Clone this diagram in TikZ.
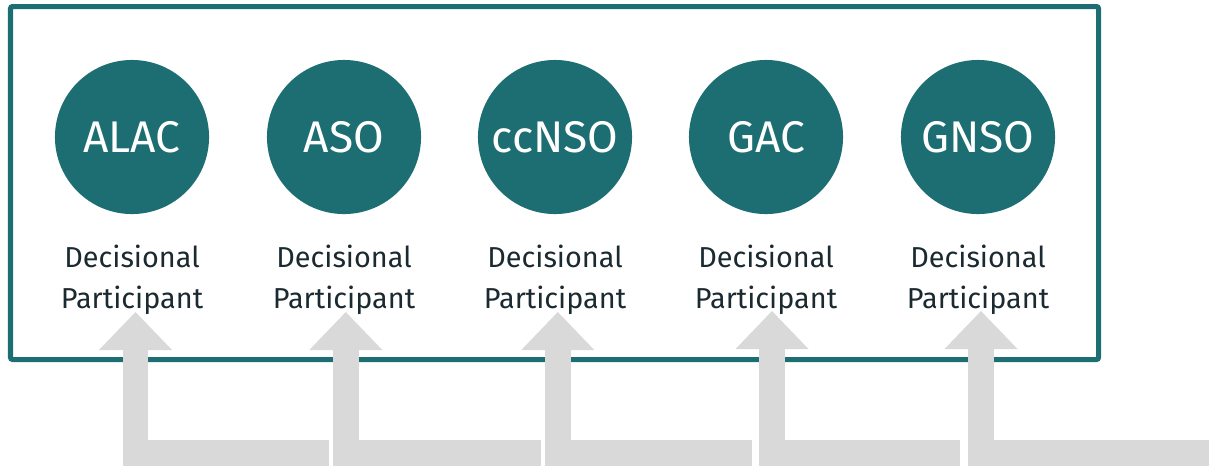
\documentclass[tikz,border=0pt]{standalone}
\usepackage{fontspec}
\setmainfont{Fira Sans}
\usetikzlibrary{arrows.meta}
\definecolor{soteal}{HTML}{1D6E72}
\definecolor{feedgray}{HTML}{D9D9D9}
\definecolor{roletext}{HTML}{1B2A30}
\tikzset{
  org/.style={circle,fill=soteal,text=white,minimum size=1.54cm,inner sep=0,
    font=\fontsize{12.6}{14}\selectfont},
  role/.style={align=center,text=roletext,anchor=base,inner sep=0,
    font=\fontsize{8.2}{11.6}\selectfont},
  feed/.style={draw=feedgray,line width=0.255cm,line join=miter,
    -{Triangle[width=0.73cm,length=0.38cm,line width=0pt]}}
}
\begin{document}
\begin{tikzpicture}[x=0.01cm,y=-0.01cm]
  \useasboundingbox (0,0) rectangle (1209,466);
  \draw[soteal,line width=0.05cm,rounded corners=0.02cm] (10.5,6.5) rectangle (1098.5,359.5);

  \node (alac) at (132,137) [org]{ALAC};
  \node (aso) at (344,137) [org]{ASO};
  \node (ccnso) at (555,137) [org]{ccNSO};
  \node (gac) at (766,137) [org]{GAC};
  \node (gnso) at (978,137) [org]{GNSO};

  \node (alacrole) at (132,308) [role]{Decisional\\Participant};
  \node (asorole) at (344,308) [role]{Decisional\\Participant};
  \node (ccnsorole) at (555,308) [role]{Decisional\\Participant};
  \node (gacrole) at (766,308) [role]{Decisional\\Participant};
  \node (gnsorole) at (978,308) [role]{Decisional\\Participant};

  % arrow tips under the labels, feeds from below
  \coordinate (alactip) at (135.5,312);
  \coordinate (asotip) at (345.8,312);
  \coordinate (ccnsotip) at (557.8,312);
  \coordinate (gactip) at (772,311);
  \coordinate (gnsotip) at (981,311);

  \coordinate (alacfeed) at (329.3,452.75);
  \coordinate (asofeed) at (540.7,452.75);
  \coordinate (ccnsofeed) at (752.3,452.75);
  \coordinate (gacfeed) at (960,452.75);
  \coordinate (gnsofeed) at (1220,452.75);

  \draw[feed] (alacfeed) -| (alactip);
  \draw[feed] (asofeed) -| (asotip);
  \draw[feed] (ccnsofeed) -| (ccnsotip);
  \draw[feed] (gacfeed) -| (gactip);
  \draw[feed] (gnsofeed) -| (gnsotip);

\end{tikzpicture}
\end{document}
